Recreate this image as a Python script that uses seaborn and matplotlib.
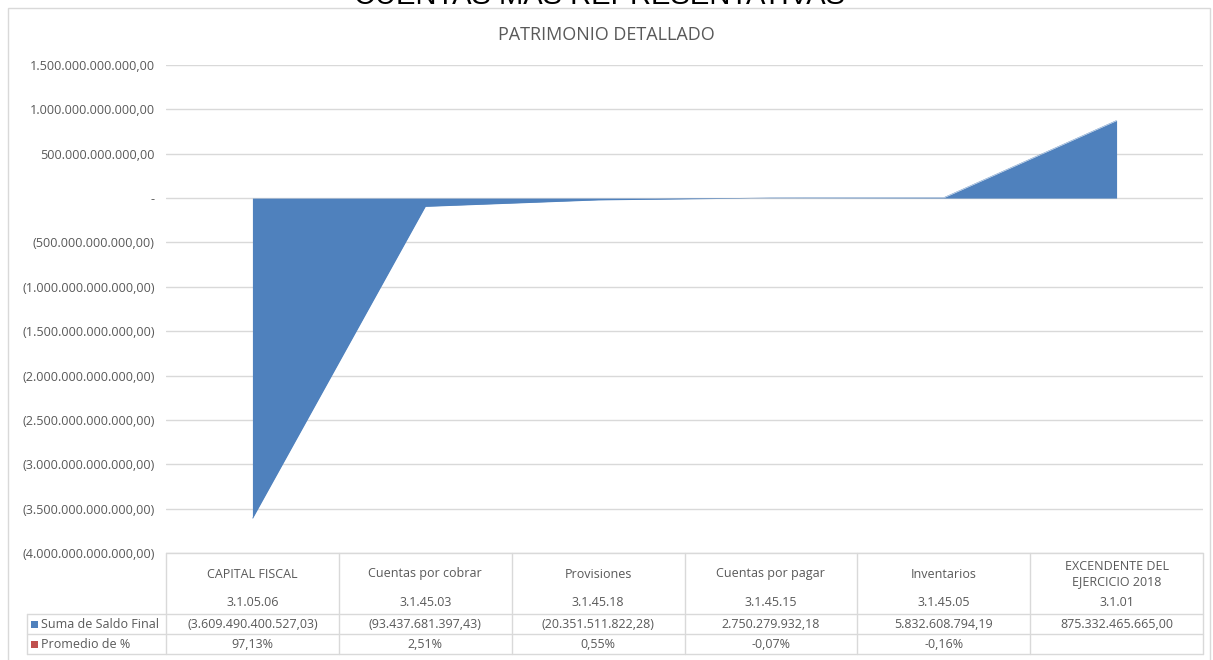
"""
Patrimonio detallado - area chart with Excel-style data table
"""

import pandas as pd
import numpy as np
import matplotlib
matplotlib.use("Agg")
import matplotlib.pyplot as plt
from matplotlib.ticker import FuncFormatter
from matplotlib.patches import Rectangle
import seaborn as sns

# data
categories = ["CAPITAL FISCAL", "Cuentas por cobrar", "Provisiones",
              "Cuentas por pagar", "Inventarios", "EXCENDENTE DEL\nEJERCICIO 2018"]
codes = ["3.1.05.06", "3.1.45.03", "3.1.45.18", "3.1.45.15", "3.1.45.05", "3.1.01"]
saldo_final = [-3609490400527.03, -93437681397.43, -20351511822.28,
               2750279932.18, 5832608794.19, 875332465665.00]
promedio_pct = [97.13, 2.51, 0.55, -0.07, -0.16, None]
yticks = [1.5e12, 1e12, 5e11, 0, -5e11, -1e12, -1.5e12, -2e12, -2.5e12, -3e12, -3.5e12, -4e12]

BLUE = "#4f81bd"
RED = "#c0504d"
GRID = "#d9d9d9"
TXT = "#595959"

W, H = 1213, 660


def fmt_num(v):
    s = f"{abs(v):,.2f}".replace(",", "X").replace(".", ",").replace("X", ".")
    return f"({s})" if v < 0 else s


def fmt_tick(v, pos=None):
    if abs(v) < 1:
        return "-"
    return fmt_num(v)


def fmt_pct(v):
    if v is None:
        return ""
    return f"{v:.2f}%".replace(".", ",")


def fx(px):
    return px / W


def fy(py):
    return 1 - py / H


sns.set_theme(style="white")
plt.rcParams["font.family"] = ["Open Sans", "DejaVu Sans"]

df = pd.DataFrame({"pos": np.arange(len(categories)), "saldo": saldo_final})

fig = plt.figure(figsize=(W / 100, H / 100), dpi=100)
fig.patch.set_facecolor("white")

# plot area
left, right, top, bottom = 166, 1203, 65, 553
ax = fig.add_axes([fx(left), fy(bottom), fx(right - left), (bottom - top) / H])
ax.fill_between(df["pos"], df["saldo"], 0, color=BLUE, linewidth=0, zorder=3)
sns.lineplot(data=df, x="pos", y="saldo", ax=ax, color=BLUE, linewidth=0.3, zorder=3)
ax.set_xlim(-0.5, len(categories) - 0.5)
ax.set_ylim(-4e12, 1.5e12)
ax.set_yticks(yticks)
ax.yaxis.set_major_formatter(FuncFormatter(fmt_tick))
ax.tick_params(axis="y", labelsize=9.1, labelcolor=TXT, length=0, pad=8)
ax.set_xticks([])
ax.set_xlabel("")
ax.set_ylabel("")
ax.grid(axis="y", color=GRID, linewidth=1, zorder=0)
for sp in ax.spines.values():
    sp.set_visible(False)

# outer chart border
fig.add_artist(Rectangle((fx(8), fy(665)), fx(1202), (665 - 8) / H, transform=fig.transFigure,
                         fill=False, edgecolor=GRID, linewidth=1))

# sheet title, cut off at the top edge as in the source, and chart title
fig.text(fx(599), fy(4), "CUENTAS MAS REPRESENTATIVAS", ha="center", va="baseline",
         fontsize=21, color="black", family=["Liberation Sans", "DejaVu Sans"])
fig.text(fx(606), fy(35), "PATRIMONIO DETALLADO", ha="center", va="center",
         fontsize=13, color=TXT)

# data table
col_w = (right - left) / len(categories)
row_y = [553, 614, 634, 654]
line_kw = dict(color=GRID, linewidth=1, transform=fig.transFigure)
fig.add_artist(plt.Line2D([fx(left), fx(right)], [fy(row_y[0])] * 2, **line_kw))
for yy in row_y[1:]:
    fig.add_artist(plt.Line2D([fx(27), fx(right)], [fy(yy)] * 2, **line_kw))
fig.add_artist(plt.Line2D([fx(27), fx(27)], [fy(row_y[1]), fy(row_y[3])], **line_kw))
for i in range(len(categories) + 1):
    xx = left + i * col_w
    fig.add_artist(plt.Line2D([fx(xx)] * 2, [fy(row_y[0]), fy(row_y[3])], **line_kw))

for i, (cat, code) in enumerate(zip(categories, codes)):
    cx = fx(left + (i + 0.5) * col_w)
    fig.text(cx, fy(574), cat, ha="center", va="center", fontsize=9, color=TXT,
             linespacing=1.3)
    fig.text(cx, fy(603), code, ha="center", va="center", fontsize=9, color=TXT)
    fig.text(cx, fy(624), fmt_num(saldo_final[i]), ha="center", va="center",
             fontsize=9, color=TXT)
    fig.text(cx, fy(644), fmt_pct(promedio_pct[i]), ha="center", va="center",
             fontsize=9, color=TXT)

# legend keys in table
for yy, col, lab in [(624, BLUE, "Suma de Saldo Final"), (644, RED, "Promedio de %")]:
    fig.add_artist(Rectangle((fx(31), fy(yy + 3.5)), fx(7), 7 / H, transform=fig.transFigure,
                             facecolor=col, edgecolor="none"))
    fig.text(fx(41), fy(yy), lab, ha="left", va="center", fontsize=9, color=TXT)

fig.savefig("out.png", dpi=100)
